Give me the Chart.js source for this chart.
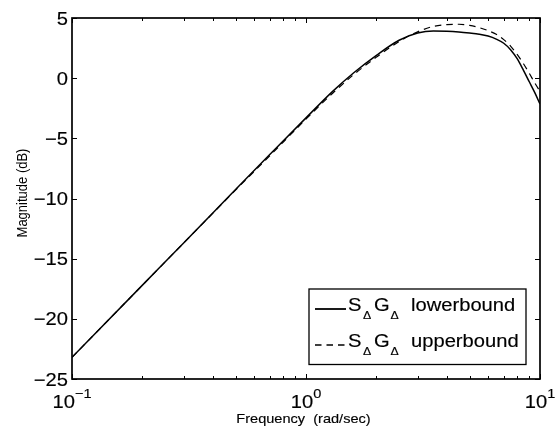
<!DOCTYPE html>
<html lang="en">
<head>
<meta charset="UTF-8">
<title>Magnitude</title>
<style>
  body { margin: 0; background: white; }
  canvas { display: block; }
</style>
</head>
<body>
<canvas id="magPlot" width="555" height="431"></canvas>
<script src="https://cdn.jsdelivr.net/npm/chart.js"></script>
<script>
// frequency grid (rad/sec) and magnitude of both bounds (dB)
const freq    = [0.1, 0.2, 0.3, 0.5, 0.7, 1.0, 1.3, 1.6, 2.0, 2.5, 3.0, 3.5, 4.0, 4.5, 5.0, 5.5, 6.0, 6.5, 7.0, 7.5, 8.0, 8.5, 9.0, 9.5, 10];
const lowerDb = [-23.2, -17.2, -13.7, -9.25, -6.35, -3.3, -1.1, 0.45, 1.9, 3.15, 3.75, 3.92, 3.9, 3.84, 3.75, 3.65, 3.5, 3.25, 2.9, 2.35, 1.6, 0.65, -0.3, -1.2, -2.15];
const upperDb = [-23.2, -17.2, -13.7, -9.3, -6.45, -3.4, -1.25, 0.3, 1.75, 3.05, 3.85, 4.3, 4.45, 4.48, 4.38, 4.2, 3.95, 3.65, 3.2, 2.65, 1.95, 1.2, 0.4, -0.4, -1.1];

const yTicks = [5, 0, -5, -10, -15, -20, -25];
const xDecades = [0.1, 1, 10];
const xExponents = ['\u22121', '0', '1'];
const legendWords = ['lowerbound', 'upperbound'];

const FONT = '"Liberation Sans", Helvetica, Arial, sans-serif';
const SX = 1.12; // text is a bit wider than tall in this figure

function wideText(ctx, str, x, y, align) {
    ctx.save();
    ctx.translate(x, y);
    ctx.scale(SX, 1);
    ctx.textAlign = align || 'left';
    ctx.fillText(str, 0, 0);
    ctx.lineWidth = 0.15;
    ctx.strokeText(str, 0, 0);
    ctx.restore();
}
function wideWidth(ctx, str) {
    return ctx.measureText(str).width * SX;
}

const toPoints = (ys) => freq.map((f, i) => ({ x: f, y: ys[i] }));

// box, inward ticks, tick labels, axis titles and the legend
const matlabAxes = {
    id: 'matlabAxes',
    afterDraw(chart) {
        const ctx = chart.ctx;
        const xs = chart.scales.x, ys = chart.scales.y;
        const { left, right, top, bottom } = chart.chartArea;
        ctx.save();
        ctx.strokeStyle = '#000';
        ctx.fillStyle = '#000';

        // ticks
        ctx.lineWidth = 1;
        ctx.beginPath();
        for (let d = 0; d < xDecades.length; d++) {
            for (let k = 1; k <= 9; k++) {
                const v = xDecades[d] * k;
                if (v > 10.0001) break;
                const px = Math.round(xs.getPixelForValue(v)) + 0.5;
                const len = k === 1 ? 5 : 3;
                ctx.moveTo(px, bottom); ctx.lineTo(px, bottom - len);
                ctx.moveTo(px, top); ctx.lineTo(px, top + len);
            }
        }
        yTicks.forEach(v => {
            const py = Math.round(ys.getPixelForValue(v)) + 0.5;
            ctx.moveTo(left, py); ctx.lineTo(left + 5, py);
            ctx.moveTo(right, py); ctx.lineTo(right - 5, py);
        });
        ctx.stroke();

        // axes box
        ctx.lineWidth = 1.7;
        ctx.strokeRect(left, top, right - left, bottom - top);

        // y tick labels
        ctx.font = '18px ' + FONT;
        ctx.textBaseline = 'alphabetic';
        yTicks.forEach(v => {
            const py = ys.getPixelForValue(v);
            const txt = v < 0 ? '\u2212' + Math.abs(v) : String(v);
            wideText(ctx, txt, 68, py + 6.5, 'right');
        });

        // x tick labels as powers of ten
        xDecades.forEach((v, i) => {
            const px = xs.getPixelForValue(v);
            ctx.font = '18px ' + FONT;
            const wb = wideWidth(ctx, '10');
            ctx.font = '13px ' + FONT;
            const we = wideWidth(ctx, xExponents[i]);
            const x0 = px - (wb + we) / 2;
            ctx.font = '18px ' + FONT;
            wideText(ctx, '10', x0, 408);
            ctx.font = '13px ' + FONT;
            wideText(ctx, xExponents[i], x0 + wb, 398);
        });

        // axis titles
        ctx.font = '13px ' + FONT;
        wideText(ctx, 'Frequency  (rad/sec)', 303.5, 423, 'center');
        ctx.save();
        ctx.translate(26.5, 193);
        ctx.scale(SX, 1);
        ctx.rotate(-Math.PI / 2);
        ctx.textAlign = 'center';
        ctx.fillText('Magnitude (dB)', 0, 0);
        ctx.restore();

        // legend
        const lx = 309, ly = 289, lw = 217, lh = 75.5;
        ctx.fillStyle = '#fff';
        ctx.fillRect(lx, ly, lw, lh);
        ctx.lineWidth = 1.3;
        ctx.strokeRect(lx, ly, lw, lh);
        ctx.fillStyle = '#000';
        chart.data.datasets.forEach((ds, i) => {
            const rowY = 309 + i * 36;
            ctx.lineWidth = ds.borderWidth + 0.3;
            ctx.setLineDash(ds.borderDash || []);
            ctx.beginPath();
            ctx.moveTo(315, rowY);
            ctx.lineTo(346, rowY);
            ctx.stroke();
            ctx.setLineDash([]);
            const tx = 348;
            ctx.font = '18px ' + FONT;
            wideText(ctx, 'S', tx, rowY + 2);
            wideText(ctx, 'G', tx + 26, rowY + 2);
            wideText(ctx, legendWords[i], tx + 63, rowY + 2);
            ctx.font = '11px ' + FONT;
            wideText(ctx, '\u0394', tx + 15, rowY + 9.8);
            wideText(ctx, '\u0394', tx + 42.5, rowY + 9.8);
        });
        ctx.restore();
    }
};

new Chart(document.getElementById('magPlot'), {
    type: 'line',
    data: {
        datasets: [
            {
                label: 'S\u0394G\u0394 lowerbound',
                data: toPoints(lowerDb),
                borderColor: '#000',
                borderWidth: 1.5,
                pointRadius: 0,
                cubicInterpolationMode: 'monotone',
                fill: false
            },
            {
                label: 'S\u0394G\u0394 upperbound',
                data: toPoints(upperDb),
                borderColor: '#000',
                borderWidth: 1.2,
                borderDash: [6.5, 5],
                pointRadius: 0,
                cubicInterpolationMode: 'monotone',
                fill: false
            }
        ]
    },
    options: {
        responsive: false,
        animation: false,
        devicePixelRatio: 1,
        layout: { padding: { top: 18, right: 15, left: 0, bottom: 0 } },
        plugins: {
            legend: { display: false },
            tooltip: { enabled: false }
        },
        scales: {
            x: {
                type: 'logarithmic',
                min: 0.1,
                max: 10,
                grid: { display: false },
                border: { display: false },
                ticks: { display: false },
                afterFit(scale) { scale.height = 52; }
            },
            y: {
                type: 'linear',
                min: -25,
                max: 5,
                grid: { display: false },
                border: { display: false },
                ticks: { display: false, stepSize: 5 },
                afterFit(scale) { scale.width = 72; }
            }
        }
    },
    plugins: [matlabAxes]
});
</script>
</body>
</html>
